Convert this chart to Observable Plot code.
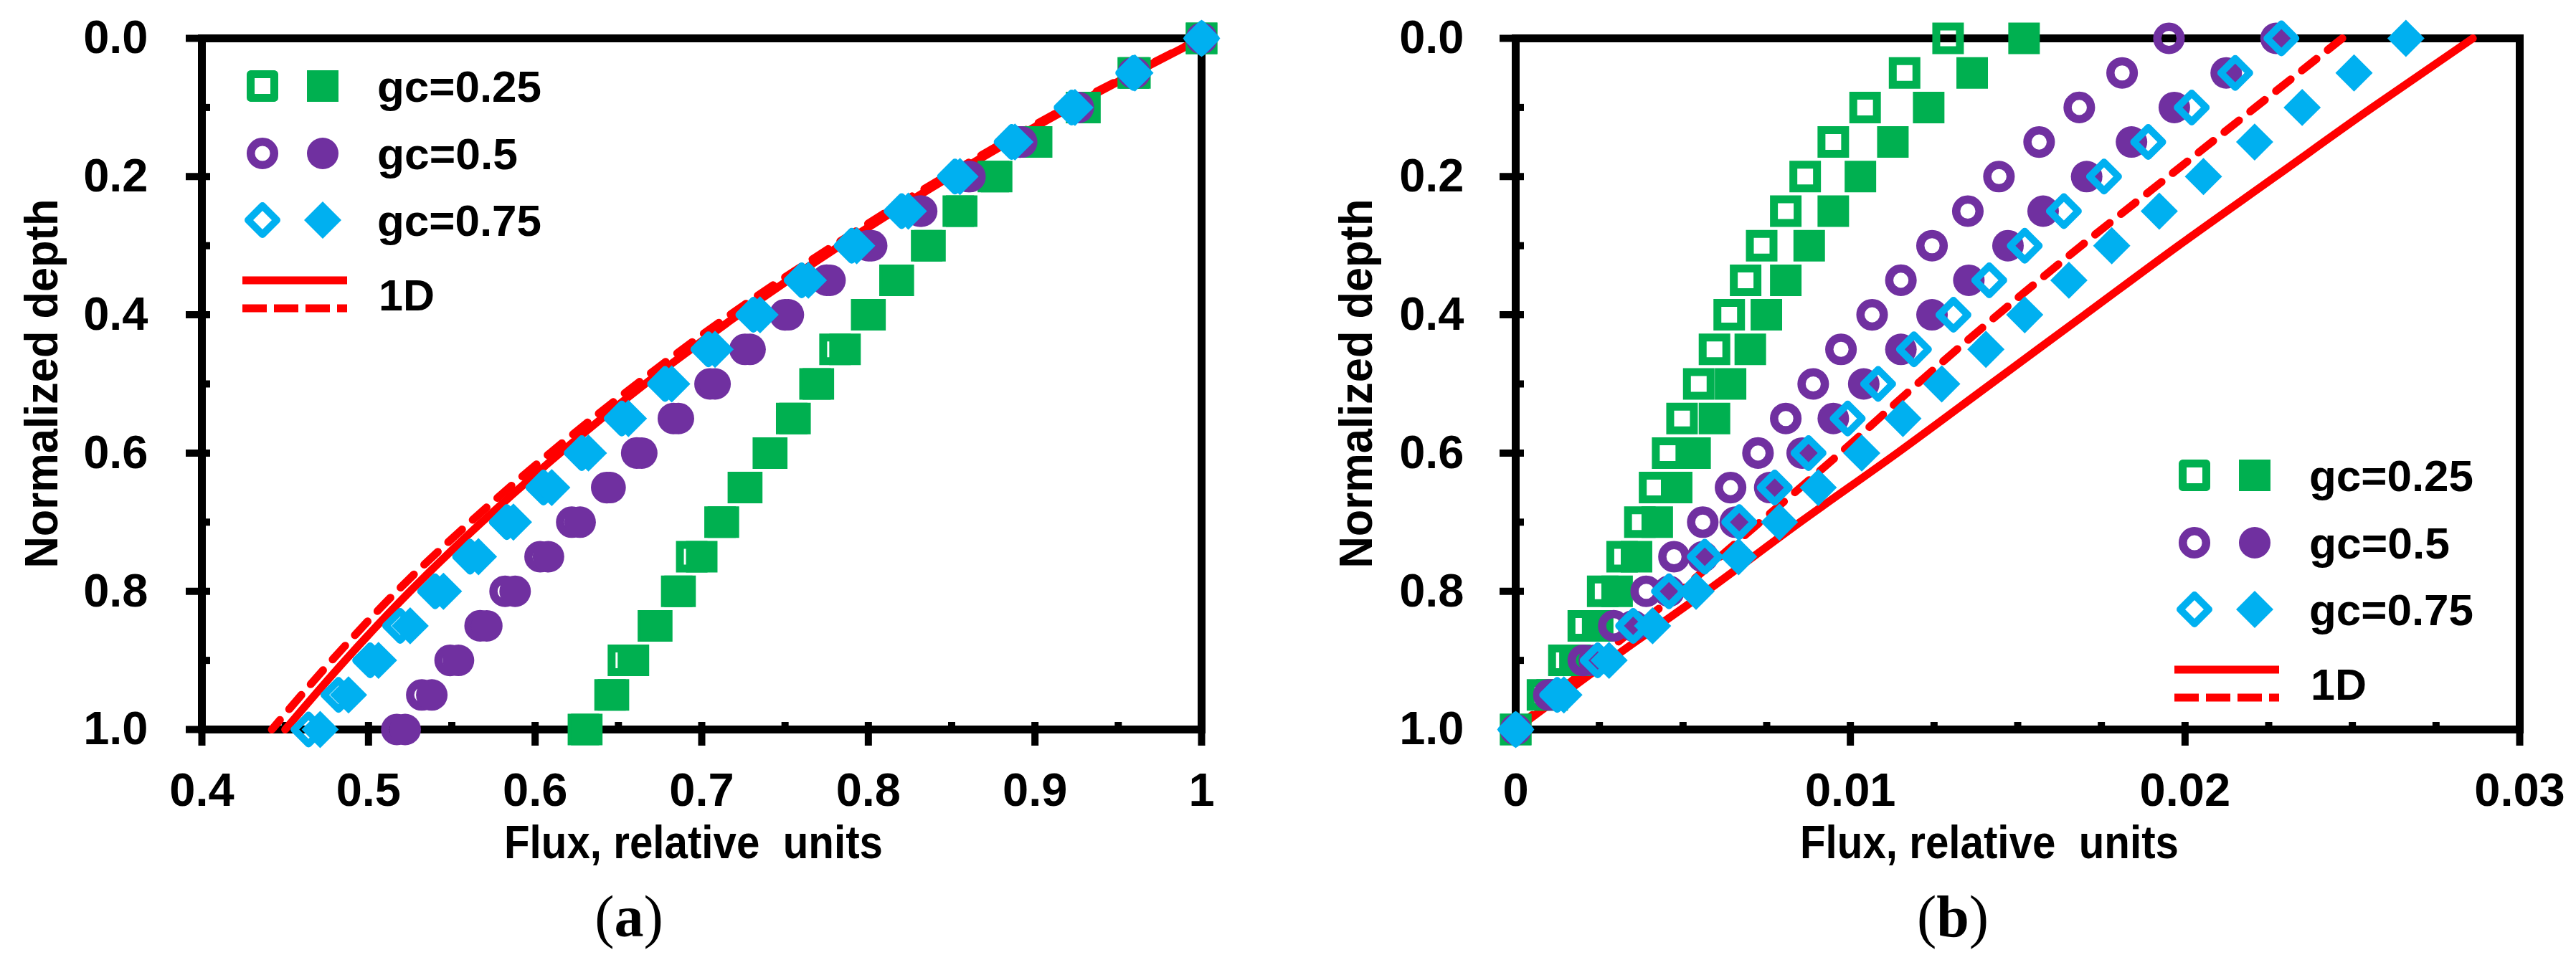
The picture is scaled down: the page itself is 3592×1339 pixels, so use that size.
<!DOCTYPE html>
<html>
<head>
<meta charset="utf-8">
<script src="https://cdn.jsdelivr.net/npm/d3@7"></script>
<script src="https://cdn.jsdelivr.net/npm/@observablehq/plot@0.6"></script>
<style>
html, body { margin: 0; padding: 0; background: #fff; }
#wrap { display: flex; width: 3592px; height: 1339px; background: #fff; }
</style>
</head>
<body>
<div id="wrap"></div>
<script>
// ---------- data ----------
const depths = [0, 0.05, 0.1, 0.15, 0.2, 0.25, 0.3, 0.35, 0.4, 0.45, 0.5, 0.55, 0.6, 0.65, 0.7, 0.75, 0.8, 0.85, 0.9, 0.95, 1.0];
const depthsLine = [0, 0.1, 0.2, 0.3, 0.4, 0.5, 0.6, 0.7, 0.8, 0.9, 1.0];

// panel (a)
const aGc025Open = [1.000, 0.959, 0.928, 0.899, 0.875, 0.854, 0.835, 0.816, 0.799, 0.780, 0.768, 0.754, 0.740, 0.725, 0.711, 0.694, 0.685, 0.671, 0.653, 0.645, 0.629];
const aGc025Fill = [1.000, 0.960, 0.930, 0.901, 0.877, 0.856, 0.837, 0.818, 0.801, 0.786, 0.770, 0.756, 0.742, 0.727, 0.713, 0.700, 0.687, 0.673, 0.659, 0.647, 0.631];
const aGc05Open  = [1.000, 0.959, 0.925, 0.891, 0.860, 0.831, 0.800, 0.775, 0.750, 0.726, 0.705, 0.683, 0.661, 0.643, 0.622, 0.603, 0.582, 0.567, 0.549, 0.532, 0.517];
const aGc05Fill  = [1.000, 0.960, 0.926, 0.892, 0.861, 0.832, 0.802, 0.777, 0.752, 0.729, 0.708, 0.686, 0.664, 0.645, 0.627, 0.608, 0.588, 0.571, 0.554, 0.538, 0.522];
const aGc075Open = [1.000, 0.959, 0.922, 0.886, 0.852, 0.820, 0.790, 0.760, 0.731, 0.704, 0.678, 0.652, 0.628, 0.605, 0.583, 0.561, 0.540, 0.519, 0.501, 0.482, 0.464];
const aGc075Fill = [1.000, 0.960, 0.924, 0.888, 0.855, 0.824, 0.793, 0.764, 0.735, 0.708, 0.682, 0.656, 0.632, 0.610, 0.587, 0.566, 0.545, 0.525, 0.506, 0.488, 0.471];
const a1DSolid   = [1.000, 0.921, 0.849, 0.783, 0.722, 0.666, 0.615, 0.568, 0.525, 0.486, 0.450];
const a1DDash    = [1.000, 0.919, 0.846, 0.779, 0.717, 0.661, 0.609, 0.561, 0.517, 0.478, 0.442];

// panel (b)
const bGc025Open = [0.01292, 0.01162, 0.01044, 0.00949, 0.00865, 0.00807, 0.00735, 0.00687, 0.00638, 0.00594, 0.00547, 0.00497, 0.00454, 0.00415, 0.00371, 0.00318, 0.00260, 0.00202, 0.00144, 0.00080, 0];
const bGc025Fill = [0.01519, 0.01364, 0.01234, 0.01127, 0.01030, 0.00949, 0.00877, 0.00807, 0.00749, 0.00701, 0.00642, 0.00594, 0.00536, 0.00481, 0.00423, 0.00361, 0.00303, 0.00245, 0.00177, 0.00109, 0];
const bGc05Open  = [0.01952, 0.01812, 0.01684, 0.01564, 0.01444, 0.01351, 0.01244, 0.01151, 0.01065, 0.00972, 0.00889, 0.00807, 0.00724, 0.00642, 0.00559, 0.00473, 0.00390, 0.00293, 0.00202, 0.00099, 0];
const bGc05Fill  = [0.02272, 0.02123, 0.01968, 0.01840, 0.01706, 0.01576, 0.01471, 0.01354, 0.01244, 0.01151, 0.01040, 0.00949, 0.00856, 0.00759, 0.00656, 0.00559, 0.00458, 0.00351, 0.00235, 0.00113, 0];
const bGc075Open = [0.02288, 0.02150, 0.02020, 0.01890, 0.01758, 0.01638, 0.01521, 0.01415, 0.01308, 0.01190, 0.01083, 0.00992, 0.00875, 0.00774, 0.00668, 0.00565, 0.00458, 0.00351, 0.00245, 0.00124, 0];
const bGc075Fill = [0.02660, 0.02505, 0.02350, 0.02208, 0.02055, 0.01923, 0.01781, 0.01653, 0.01521, 0.01405, 0.01273, 0.01157, 0.01034, 0.00904, 0.00788, 0.00666, 0.00539, 0.00409, 0.00279, 0.00144, 0];
const b1DSolid   = [0.0286, 0.0256, 0.0227, 0.0198, 0.0170, 0.0142, 0.0114, 0.0085, 0.0057, 0.0028, 0];
const b1DDash    = [0.0247, 0.0221, 0.0195, 0.0169, 0.0144, 0.0120, 0.0097, 0.0073, 0.0049, 0.0024, 0];

// axis ticks / labels
const yMajor = [0, 0.2, 0.4, 0.6, 0.8, 1.0];
const yMinor = [0.1, 0.3, 0.5, 0.7, 0.9];
const aXMajor = [0.4, 0.5, 0.6, 0.7, 0.8, 0.9, 1.0];
const aXMinor = [0.45, 0.55, 0.65, 0.75, 0.85, 0.95];
const bXMajor = [0, 0.01, 0.02, 0.03];
const bXMinor = [0.0025, 0.005, 0.0075, 0.0125, 0.015, 0.0175, 0.0225, 0.025, 0.0275];
const legendLabels = ["gc=0.25", "gc=0.5", "gc=0.75", "1D"];
const xTitle = "Flux, relative  units";
const yTitle = "Normalized depth";

// ---------- style ----------
const GREEN = "#00B050", PURPLE = "#7030A0", BLUE = "#00B0F0", RED = "#FF0000";
const FONT = "'Liberation Sans', Arial, sans-serif";
const SER = "'Liberation Serif', 'Times New Roman', serif";
const H = 1339, MT = 53, MB = 1339 - 1017;
const legendTextLen = [229, 196, 229, 78];

const pts = (xs, ys) => xs.map((x, i) => ({x, y: ys[i]}));

const R = {
  sqOpen: 18.6, sqFill: 24.8,
  ciOpen: 16.3, ciFill: 22,
  diOpen: 18.0, diFill: 23.4
};

function markerMarks(s) {
  return [
    Plot.dot(pts(s.g1o, depths), {x: "x", y: "y", symbol: "square", r: R.sqOpen, fill: "none", stroke: GREEN, strokeWidth: 11}),
    Plot.dot(pts(s.g1f, depths), {x: "x", y: "y", symbol: "square", r: R.sqFill, fill: GREEN, stroke: "none"}),
    Plot.dot(pts(s.g2o, depths), {x: "x", y: "y", symbol: "circle", r: R.ciOpen, fill: "none", stroke: PURPLE, strokeWidth: 11.5}),
    Plot.dot(pts(s.g2f, depths), {x: "x", y: "y", symbol: "circle", r: R.ciFill, fill: PURPLE, stroke: "none"}),
    Plot.dot(pts(s.g3o, depths), {x: "x", y: "y", symbol: "diamond2", r: R.diOpen, fill: "none", stroke: BLUE, strokeWidth: 10, strokeLinejoin: "round"}),
    Plot.dot(pts(s.g3f, depths), {x: "x", y: "y", symbol: "diamond2", r: R.diFill, fill: BLUE, stroke: "none"})
  ];
}

function legendText(g, x, y, i) {
  g.append("text").attr("x", x).attr("y", y).attr("text-anchor", "start")
    .attr("font-family", FONT).attr("font-weight", "bold").attr("font-size", 61)
    .attr("textLength", legendTextLen[i]).attr("lengthAdjust", "spacingAndGlyphs")
    .attr("fill", "black").text(legendLabels[i]);
}

function drawLegend(svg, ox, oy) {
  const g = svg.append("g").attr("text-anchor", "start");
  const rowDy = [0, 94, 187];
  const spec = [
    {t: d3.symbolSquare, c: GREEN, ro: R.sqOpen, rf: R.sqFill, sw: 11},
    {t: d3.symbolCircle, c: PURPLE, ro: R.ciOpen, rf: R.ciFill, sw: 11.5},
    {t: d3.symbolDiamond2, c: BLUE, ro: R.diOpen, rf: R.diFill, sw: 10}
  ];
  spec.forEach((s, i) => {
    const y = oy + rowDy[i];
    g.append("path").attr("d", d3.symbol().type(s.t).size(s.ro * s.ro * Math.PI)())
      .attr("transform", `translate(${ox - 4},${y})`).attr("fill", "none")
      .attr("stroke", s.c).attr("stroke-width", s.sw).attr("stroke-linejoin", "round");
    g.append("path").attr("d", d3.symbol().type(s.t).size(s.rf * s.rf * Math.PI)())
      .attr("transform", `translate(${ox + 80},${y})`).attr("fill", s.c);
    legendText(g, ox + 156, y + 22, i);
  });
  g.append("line").attr("x1", ox - 32).attr("x2", ox + 114).attr("y1", oy + 271).attr("y2", oy + 271)
    .attr("stroke", RED).attr("stroke-width", 11);
  g.append("line").attr("x1", ox - 32).attr("x2", ox + 114).attr("y1", oy + 310).attr("y2", oy + 310)
    .attr("stroke", RED).attr("stroke-width", 11).attr("stroke-dasharray", "34,10");
  legendText(g, ox + 158, oy + 313, 3);
}

function panel(o) {
  const marks = [
    Plot.frame({stroke: "black", strokeWidth: 11}),
    Plot.axisX({ticks: o.xMajor, tickSize: 33, dy: -10, strokeWidth: 10, tickFormat: () => "", label: null}),
    Plot.axisX({ticks: o.xMinor, tickSize: 10, dy: -10, strokeWidth: 10, tickFormat: () => "", label: null}),
    Plot.axisY({ticks: yMajor, tickSize: 34, dx: 12, strokeWidth: 10, tickFormat: () => "", label: null}),
    Plot.axisY({ticks: yMinor, tickSize: 12, dx: 12, strokeWidth: 10, tickFormat: () => "", label: null}),
    Plot.axisX({ticks: o.xMajor, tickSize: 0, tickPadding: 60, tickFormat: o.xFmt, fontSize: 65, fontWeight: "bold", fontFamily: FONT, label: null}),
    Plot.axisY({ticks: yMajor, tickSize: 0, tickPadding: o.yPad, tickFormat: d3.format(".1f"), fontSize: 65, fontWeight: "bold", fontFamily: FONT, label: null}),
    Plot.line(pts(o.dash, depthsLine), {x: "x", y: "y", stroke: RED, strokeWidth: 11, strokeDasharray: "26,20", strokeLinecap: "round", curve: "monotone-y"}),
    Plot.line(pts(o.solid, depthsLine), {x: "x", y: "y", stroke: RED, strokeWidth: 11, curve: "monotone-y"}),
    ...markerMarks(o.series)
  ];
  const svgNode = Plot.plot({
    width: 1796, height: H,
    marginLeft: o.ml, marginRight: o.mr, marginTop: MT, marginBottom: MB,
    x: {domain: o.xDomain, label: null},
    y: {domain: [0, 1], reverse: true, label: null},
    style: {fontFamily: FONT, fontWeight: "bold", overflow: "visible", background: "white", color: "black"},
    marks
  });
  const svg = d3.select(svgNode);
  drawLegend(svg, o.legend[0], o.legend[1]);
  // axis titles
  svg.append("text").attr("x", o.xTitleX).attr("y", 1197).attr("text-anchor", "start")
    .attr("font-family", FONT).attr("font-weight", "bold").attr("font-size", 65)
    .attr("textLength", 528).attr("lengthAdjust", "spacingAndGlyphs")
    .style("white-space", "pre").attr("fill", "black").text(xTitle);
  svg.append("text").attr("transform", `translate(${o.yTitleX},535) rotate(-90)`)
    .attr("text-anchor", "middle")
    .attr("font-family", FONT).attr("font-weight", "bold").attr("font-size", 65)
    .attr("textLength", 515).attr("lengthAdjust", "spacingAndGlyphs")
    .attr("fill", "black").text(yTitle);
  // caption
  const cap = svg.append("text").attr("x", o.capX).attr("y", 1306).attr("text-anchor", "middle")
    .attr("font-family", SER).attr("font-size", 82).attr("font-weight", "normal").attr("fill", "black");
  cap.append("tspan").text("(");
  cap.append("tspan").attr("font-weight", "bold").text(o.cap);
  cap.append("tspan").text(")");
  return svgNode;
}

const wrap = document.getElementById("wrap");
wrap.appendChild(panel({
  xDomain: [0.4, 1.0], xMajor: aXMajor, xMinor: aXMinor,
  xFmt: d => d === 1 ? "1" : d.toFixed(1),
  ml: 281, mr: 1796 - 1675, yPad: 75,
  dash: a1DDash, solid: a1DSolid,
  series: {g1o: aGc025Open, g1f: aGc025Fill, g2o: aGc05Open, g2f: aGc05Fill, g3o: aGc075Open, g3f: aGc075Fill},
  legend: [370, 120], xTitleX: 703, yTitleX: 80, capX: 877, cap: "a"
}));
wrap.appendChild(panel({
  xDomain: [0, 0.03], xMajor: bXMajor, xMinor: bXMinor,
  xFmt: d => d === 0 ? "0" : d.toFixed(2),
  ml: 2113 - 1796, mr: 1796 - (3513 - 1796), yPad: 72,
  dash: b1DDash, solid: b1DSolid,
  series: {g1o: bGc025Open, g1f: bGc025Fill, g2o: bGc05Open, g2f: bGc05Fill, g3o: bGc075Open, g3f: bGc075Fill},
  legend: [3064 - 1796, 663], xTitleX: 714, yTitleX: 117, capX: 927, cap: "b"
}));
</script>
</body>
</html>
